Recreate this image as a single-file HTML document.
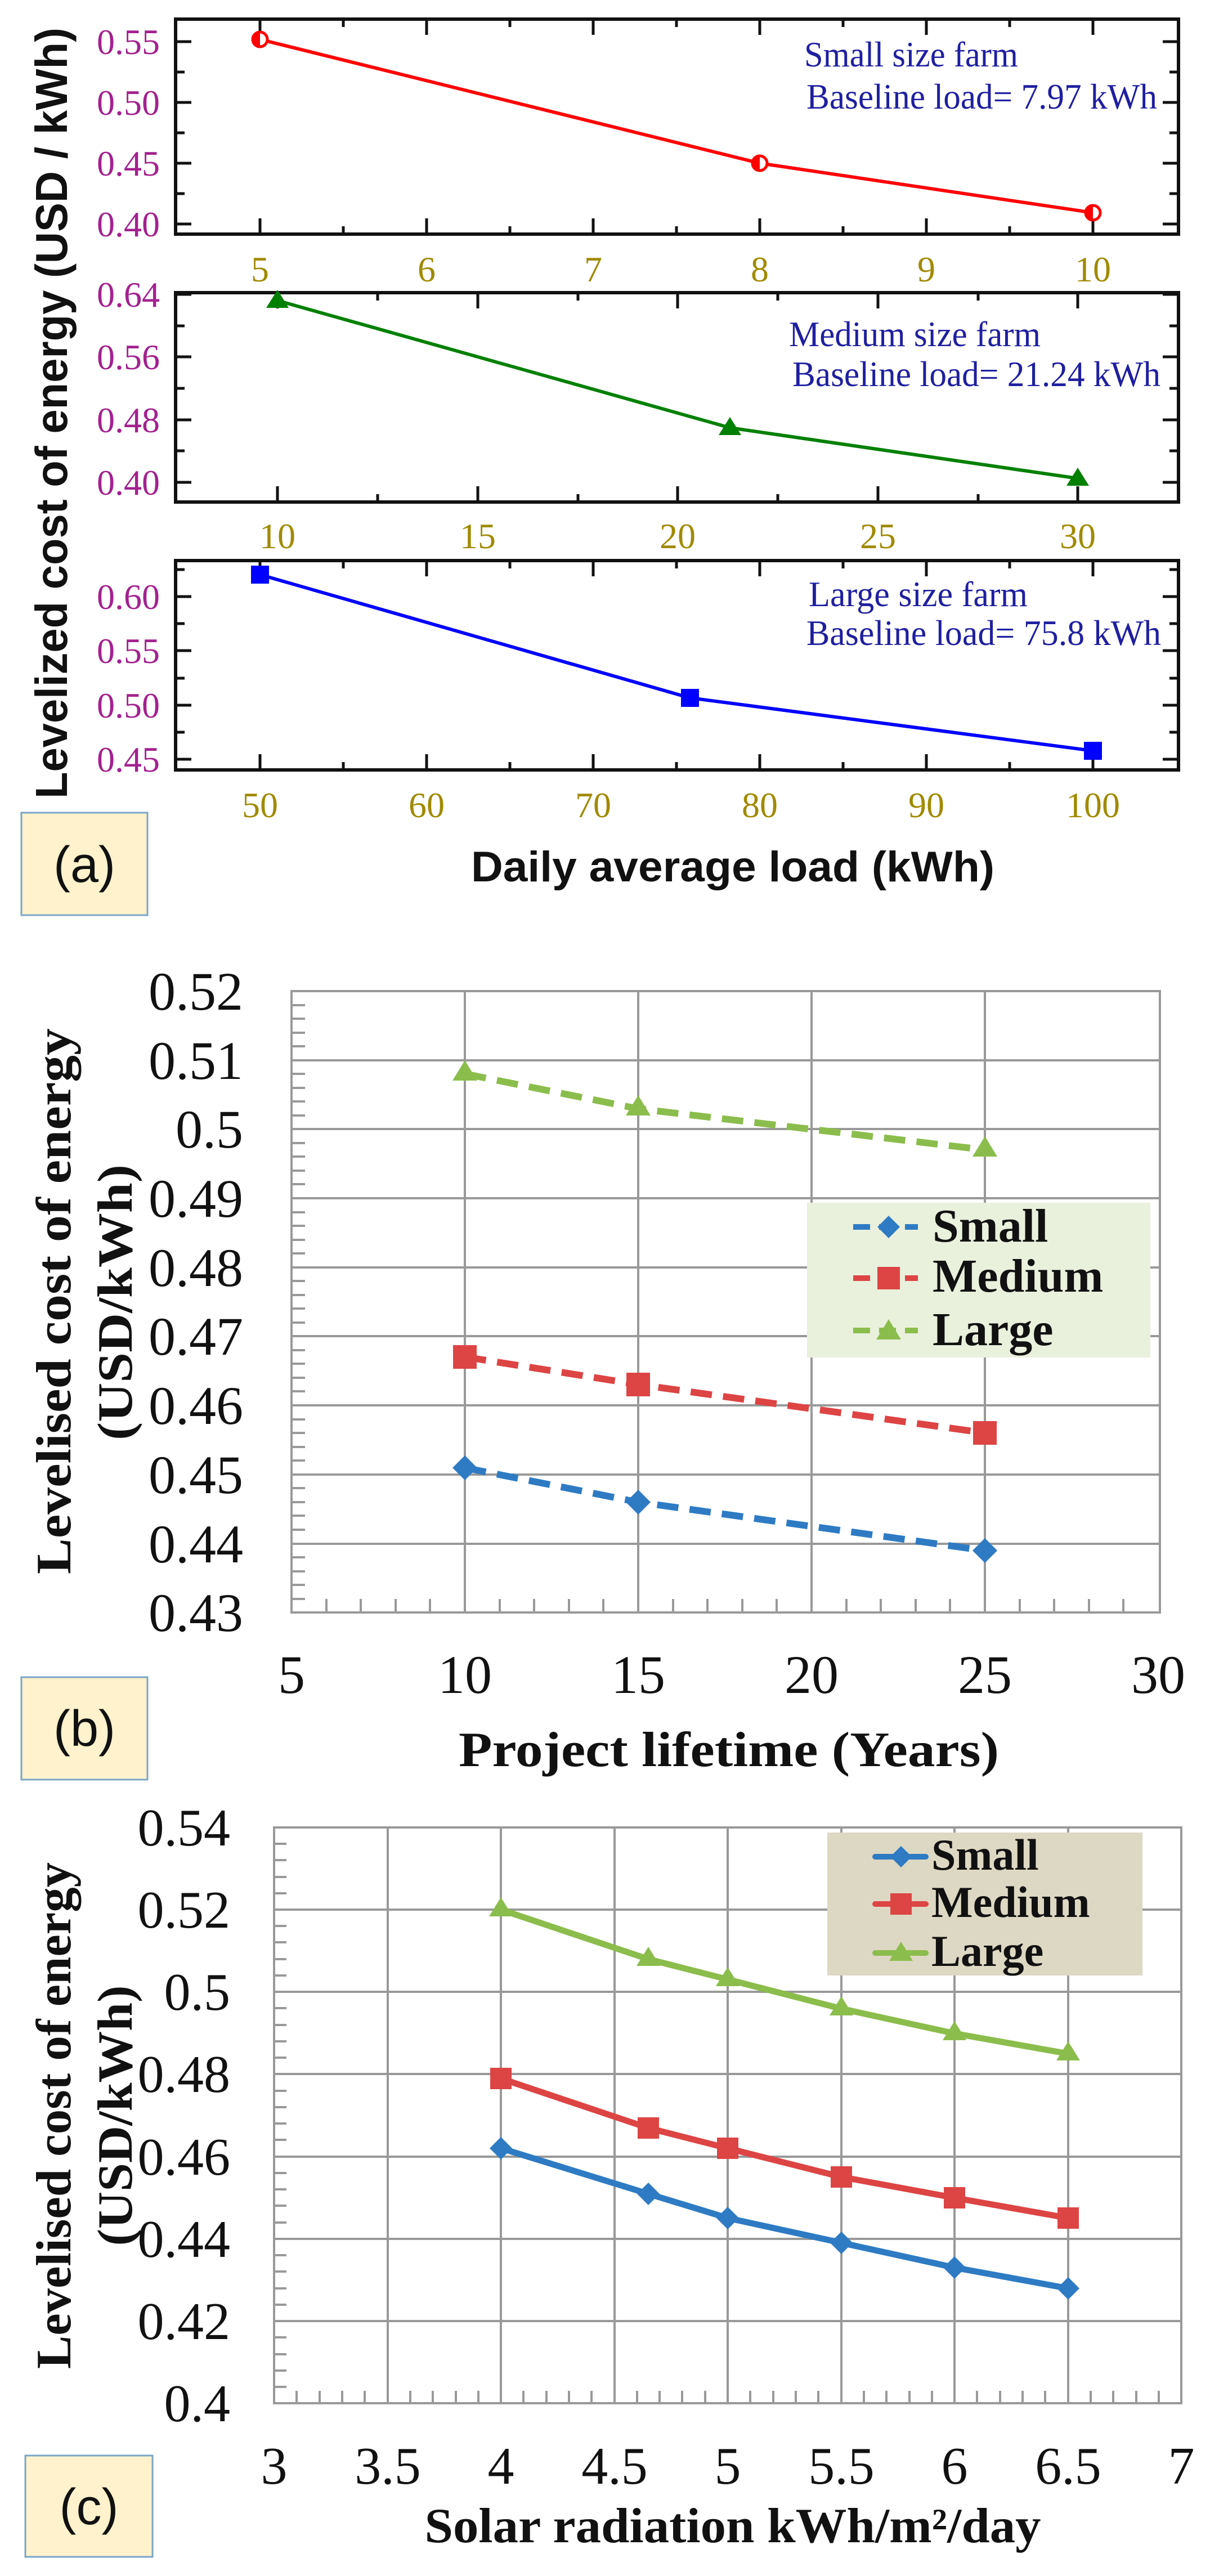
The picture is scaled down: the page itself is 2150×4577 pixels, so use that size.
<!DOCTYPE html>
<html><head><meta charset="utf-8"><style>
html,body{margin:0;padding:0;background:#fff;}
svg{display:block;}
</style></head><body>
<svg width="2150" height="4577" viewBox="0 0 2150 4577" xmlns="http://www.w3.org/2000/svg">
<rect width="2150" height="4577" fill="#fff"/>

<!-- ===== Panel (a) ===== -->
<g stroke="#111" stroke-width="6" fill="none">
 <rect x="312" y="34" width="1782" height="382"/>
 <rect x="312" y="520" width="1782" height="372"/>
 <rect x="312" y="996" width="1782" height="372"/>
</g>
<g stroke="#111" stroke-width="5">
 <path d="M462 416v-28M758 416v-28M1054 416v-28M1350 416v-28M1646 416v-28M1942 416v-28
 M610 416v-14M906 416v-14M1202 416v-14M1498 416v-14M1794 416v-14
 M462 34v28M758 34v28M1054 34v28M1350 34v28M1646 34v28M1942 34v28
 M610 34v14M906 34v14M1202 34v14M1498 34v14M1794 34v14
 M312 74h28M312 182h28M312 290h28M312 398h28M312 128h16M312 236h16M312 344h16
 M2094 74h-28M2094 182h-28M2094 290h-28M2094 398h-28M2094 128h-16M2094 236h-16M2094 344h-16"/>
</g>
<g font-family="Liberation Serif, serif" font-size="64" fill="#a3218f" text-anchor="end">
 <text x="284" y="96">0.55</text><text x="284" y="204">0.50</text><text x="284" y="312">0.45</text><text x="284" y="420">0.40</text>
</g>
<g font-family="Liberation Serif, serif" font-size="64" fill="#a08a00" text-anchor="middle">
 <text x="462" y="500">5</text><text x="758" y="500">6</text><text x="1054" y="500">7</text><text x="1350" y="500">8</text><text x="1646" y="500">9</text><text x="1942" y="500">10</text>
</g>
<polyline points="462,70 1350,290 1942,378" fill="none" stroke="#f00" stroke-width="6"/>
<g fill="#fff" stroke="#f00" stroke-width="5">
 <circle cx="462" cy="70" r="13"/><circle cx="1350" cy="290" r="13"/><circle cx="1942" cy="378" r="13"/>
</g>
<g fill="#f00"><path d="M462 57a13 13 0 0 0 0 26z"/><path d="M1350 277a13 13 0 0 0 0 26z"/><path d="M1942 365a13 13 0 0 0 0 26z"/></g>
<g font-family="Liberation Serif, serif" font-size="64" fill="#1f1fa0">
 <text x="1429" y="118" textLength="380" lengthAdjust="spacingAndGlyphs">Small size farm</text>
 <text x="1433" y="193" textLength="623" lengthAdjust="spacingAndGlyphs">Baseline load= 7.97 kWh</text>
</g>

<g stroke="#111" stroke-width="5">
 <path d="M493 892v-28M849 892v-28M1204 892v-28M1560 892v-28M1915 892v-28
 M671 892v-14M1027 892v-14M1382 892v-14M1738 892v-14
 M493 520v28M849 520v28M1204 520v28M1560 520v28M1915 520v28
 M671 520v14M1027 520v14M1382 520v14M1738 520v14
 M312 523h28M312 634h28M312 746h28M312 857h28M312 579h16M312 690h16M312 801h16
 M2094 523h-28M2094 634h-28M2094 746h-28M2094 857h-28M2094 579h-16M2094 690h-16M2094 801h-16"/>
</g>
<g font-family="Liberation Serif, serif" font-size="64" fill="#a3218f" text-anchor="end">
 <text x="284" y="545">0.64</text><text x="284" y="656">0.56</text><text x="284" y="768">0.48</text><text x="284" y="879">0.40</text>
</g>
<g font-family="Liberation Serif, serif" font-size="64" fill="#a08a00" text-anchor="middle">
 <text x="493" y="974">10</text><text x="849" y="974">15</text><text x="1204" y="974">20</text><text x="1560" y="974">25</text><text x="1915" y="974">30</text>
</g>
<polyline points="493,534 1297,760 1915,850" fill="none" stroke="#008000" stroke-width="6"/>
<g fill="#008000">
 <path d="M493 515l20 32h-40z"/><path d="M1297 741l20 32h-40z"/><path d="M1915 831l20 32h-40z"/>
</g>
<g font-family="Liberation Serif, serif" font-size="64" fill="#1f1fa0">
 <text x="1402" y="615" textLength="447" lengthAdjust="spacingAndGlyphs">Medium size farm</text>
 <text x="1408" y="686" textLength="654" lengthAdjust="spacingAndGlyphs">Baseline load= 21.24 kWh</text>
</g>

<g stroke="#111" stroke-width="5">
 <path d="M462 1368v-28M758 1368v-28M1054 1368v-28M1350 1368v-28M1646 1368v-28M1942 1368v-28
 M610 1368v-14M906 1368v-14M1202 1368v-14M1498 1368v-14M1794 1368v-14
 M462 996v28M758 996v28M1054 996v28M1350 996v28M1646 996v28M1942 996v28
 M610 996v14M906 996v14M1202 996v14M1498 996v14M1794 996v14
 M312 1060h28M312 1156h28M312 1253h28M312 1349h28M312 1012h16M312 1108h16M312 1205h16M312 1301h16
 M2094 1060h-28M2094 1156h-28M2094 1253h-28M2094 1349h-28M2094 1012h-16M2094 1108h-16M2094 1205h-16M2094 1301h-16"/>
</g>
<g font-family="Liberation Serif, serif" font-size="64" fill="#a3218f" text-anchor="end">
 <text x="284" y="1082">0.60</text><text x="284" y="1178">0.55</text><text x="284" y="1275">0.50</text><text x="284" y="1371">0.45</text>
</g>
<g font-family="Liberation Serif, serif" font-size="64" fill="#a08a00" text-anchor="middle">
 <text x="462" y="1452">50</text><text x="758" y="1452">60</text><text x="1054" y="1452">70</text><text x="1350" y="1452">80</text><text x="1646" y="1452">90</text><text x="1942" y="1452">100</text>
</g>
<polyline points="462,1021 1226,1240 1942,1334" fill="none" stroke="#00f" stroke-width="6"/>
<g fill="#00f"><rect x="446" y="1005" width="32" height="32"/><rect x="1210" y="1224" width="32" height="32"/><rect x="1926" y="1318" width="32" height="32"/></g>
<g font-family="Liberation Serif, serif" font-size="64" fill="#1f1fa0">
 <text x="1437" y="1077" textLength="389" lengthAdjust="spacingAndGlyphs">Large size farm</text>
 <text x="1433" y="1146" textLength="630" lengthAdjust="spacingAndGlyphs">Baseline load= 75.8 kWh</text>
</g>

<text font-family="Liberation Sans, sans-serif" font-size="80" font-weight="bold" fill="#111" text-anchor="middle" transform="translate(119 734) rotate(-90)" textLength="1370" lengthAdjust="spacingAndGlyphs">Levelized cost of energy (USD / kWh)</text>
<text font-family="Liberation Sans, sans-serif" font-size="76" font-weight="bold" fill="#111" text-anchor="middle" x="1302" y="1566" textLength="930" lengthAdjust="spacingAndGlyphs">Daily average load (kWh)</text>
<rect x="38" y="1444" width="224" height="182" fill="#fff2cc" stroke="#7aa6c8" stroke-width="3"/>
<text font-family="Liberation Sans, sans-serif" font-size="90" fill="#111" text-anchor="middle" x="150" y="1567">(a)</text>

<!-- ===== Panel (b) ===== -->
<g stroke="#999" stroke-width="4" fill="none">
 <path d="M518 1884H2061M518 2006H2061M518 2129H2061M518 2252H2061M518 2374H2061M518 2497H2061M518 2620H2061M518 2743H2061"/>
 <path d="M826 1761V2865M1134 1761V2865M1442 1761V2865M1750 1761V2865"/>
 <rect x="518" y="1761" width="1543" height="1104"/>
 <path d="M518 1786h24M518 1810h24M518 1835h24M518 1859h24M518 1908h24M518 1933h24M518 1957h24M518 1982h24M518 2031h24M518 2055h24M518 2080h24M518 2104h24M518 2154h24M518 2178h24M518 2203h24M518 2227h24M518 2276h24M518 2301h24M518 2325h24M518 2350h24M518 2399h24M518 2423h24M518 2448h24M518 2472h24M518 2522h24M518 2546h24M518 2571h24M518 2595h24M518 2644h24M518 2669h24M518 2693h24M518 2718h24M518 2767h24M518 2792h24M518 2816h24M518 2841h24"/>
 <path d="M580 2865v-24M641 2865v-24M703 2865v-24M764 2865v-24M888 2865v-24M949 2865v-24M1011 2865v-24M1072 2865v-24M1196 2865v-24M1257 2865v-24M1319 2865v-24M1380 2865v-24M1504 2865v-24M1565 2865v-24M1627 2865v-24M1688 2865v-24M1812 2865v-24M1873 2865v-24M1935 2865v-24M1996 2865v-24"/>
</g>
<g font-family="Liberation Serif, serif" font-size="96" fill="#111" text-anchor="end">
 <text x="432" y="1794">0.52</text><text x="432" y="1917">0.51</text><text x="432" y="2039">0.5</text><text x="432" y="2162">0.49</text><text x="432" y="2285">0.48</text><text x="432" y="2407">0.47</text><text x="432" y="2530">0.46</text><text x="432" y="2653">0.45</text><text x="432" y="2776">0.44</text><text x="432" y="2898">0.43</text>
</g>
<g font-family="Liberation Serif, serif" font-size="96" fill="#111" text-anchor="middle">
 <text x="518" y="3008">5</text><text x="826" y="3008">10</text><text x="1134" y="3008">15</text><text x="1442" y="3008">20</text><text x="1750" y="3008">25</text><text x="2058" y="3008">30</text>
</g>
<g fill="none" stroke-width="12" stroke-dasharray="38 20">
 <polyline points="826,1908 1134,1970 1750,2043" stroke="#8bbd4c"/>
 <polyline points="826,2411 1134,2460 1750,2546" stroke="#dd4444"/>
 <polyline points="826,2608 1134,2669 1750,2755" stroke="#2e7bc4"/>
</g>
<g fill="#8bbd4c"><path d="M826 1884l22 36h-44z"/><path d="M1134 1946l22 36h-44z"/><path d="M1750 2019l22 36h-44z"/></g>
<g fill="#dd4444"><rect x="805" y="2390" width="42" height="42"/><rect x="1113" y="2439" width="42" height="42"/><rect x="1729" y="2525" width="42" height="42"/></g>
<g fill="#2e7bc4"><path d="M826 2586l22 22-22 22-22-22z"/><path d="M1134 2647l22 22-22 22-22-22z"/><path d="M1750 2733l22 22-22 22-22-22z"/></g>
<rect x="1434" y="2137" width="610" height="275" fill="#e9f0dc"/>
<g stroke-width="10" stroke-dasharray="30 16">
 <path d="M1516 2180H1631" stroke="#2e7bc4"/><path d="M1516 2271H1631" stroke="#dd4444"/><path d="M1516 2364H1631" stroke="#8bbd4c"/>
</g>
<path d="M1579 2160l20 20-20 20-20-20z" fill="#2e7bc4"/>
<rect x="1559" y="2251" width="40" height="40" fill="#dd4444"/>
<path d="M1579 2344l22 36h-44z" fill="#8bbd4c"/>
<g font-family="Liberation Serif, serif" font-size="84" font-weight="bold" fill="#111">
 <text x="1657" y="2206">Small</text><text x="1657" y="2295">Medium</text><text x="1657" y="2390">Large</text>
</g>
<g font-family="Liberation Serif, serif" font-size="88" font-weight="bold" fill="#111" text-anchor="middle">
 <text transform="translate(125 2312) rotate(-90)" textLength="970" lengthAdjust="spacingAndGlyphs">Levelised cost of energy</text>
 <text transform="translate(234 2314) rotate(-90)" textLength="490" lengthAdjust="spacingAndGlyphs">(USD/kWh)</text>
 <text x="1295" y="3138" textLength="960" lengthAdjust="spacingAndGlyphs">Project lifetime (Years)</text>
</g>
<rect x="38" y="2980" width="224" height="182" fill="#fff2cc" stroke="#7aa6c8" stroke-width="3"/>
<text font-family="Liberation Sans, sans-serif" font-size="90" fill="#111" text-anchor="middle" x="150" y="3102">(b)</text>

<!-- ===== Panel (c) ===== -->
<g stroke="#999" stroke-width="4" fill="none">
 <path d="M487 3393H2099M487 3539H2099M487 3685H2099M487 3832H2099M487 3978H2099M487 4124H2099"/>
 <path d="M689 3247V4270M890 3247V4270M1092 3247V4270M1293 3247V4270M1495 3247V4270M1696 3247V4270M1898 3247V4270"/>
 <rect x="487" y="3247" width="1612" height="1023"/>
 <path d="M487 3276h22M487 3305h22M487 3335h22M487 3364h22M487 3422h22M487 3451h22M487 3481h22M487 3510h22M487 3568h22M487 3598h22M487 3627h22M487 3656h22M487 3715h22M487 3744h22M487 3773h22M487 3802h22M487 3861h22M487 3890h22M487 3919h22M487 3949h22M487 4007h22M487 4036h22M487 4066h22M487 4095h22M487 4153h22M487 4183h22M487 4212h22M487 4241h22"/>
 <path d="M527 4270v-22M568 4270v-22M608 4270v-22M648 4270v-22M729 4270v-22M769 4270v-22M810 4270v-22M850 4270v-22M930 4270v-22M971 4270v-22M1011 4270v-22M1051 4270v-22M1132 4270v-22M1172 4270v-22M1212 4270v-22M1253 4270v-22M1333 4270v-22M1374 4270v-22M1414 4270v-22M1454 4270v-22M1535 4270v-22M1575 4270v-22M1616 4270v-22M1656 4270v-22M1736 4270v-22M1777 4270v-22M1817 4270v-22M1857 4270v-22M1938 4270v-22M1978 4270v-22M2019 4270v-22M2059 4270v-22"/>
</g>
<g font-family="Liberation Serif, serif" font-size="94" fill="#111" text-anchor="end">
 <text x="409" y="3279">0.54</text><text x="409" y="3425">0.52</text><text x="409" y="3571">0.5</text><text x="409" y="3717">0.48</text><text x="409" y="3864">0.46</text><text x="409" y="4010">0.44</text><text x="409" y="4156">0.42</text><text x="409" y="4302">0.4</text>
</g>
<g font-family="Liberation Serif, serif" font-size="94" fill="#111" text-anchor="middle">
 <text x="487" y="4413">3</text><text x="689" y="4413">3.5</text><text x="890" y="4413">4</text><text x="1092" y="4413">4.5</text><text x="1293" y="4413">5</text><text x="1495" y="4413">5.5</text><text x="1696" y="4413">6</text><text x="1898" y="4413">6.5</text><text x="2099" y="4413">7</text>
</g>
<g fill="none" stroke-width="11" stroke-linejoin="round">
 <polyline points="890,3393 1152,3481 1293,3517 1495,3569 1696,3613 1898,3649" stroke="#8bbd4c"/>
 <polyline points="890,3693 1152,3781 1293,3817 1495,3868 1696,3905 1898,3941" stroke="#dd4444"/>
 <polyline points="890,3817 1152,3898 1293,3941 1495,3985 1696,4029 1898,4066" stroke="#2e7bc4"/>
</g>
<g fill="#8bbd4c"><path d="M890 3371l21 34h-42z"/><path d="M1152 3459l21 34h-42z"/><path d="M1293 3495l21 34h-42z"/><path d="M1495 3547l21 34h-42z"/><path d="M1696 3591l21 34h-42z"/><path d="M1898 3627l21 34h-42z"/></g>
<g fill="#dd4444"><rect x="871" y="3674" width="38" height="38"/><rect x="1133" y="3762" width="38" height="38"/><rect x="1274" y="3798" width="38" height="38"/><rect x="1476" y="3849" width="38" height="38"/><rect x="1677" y="3886" width="38" height="38"/><rect x="1879" y="3922" width="38" height="38"/></g>
<g fill="#2e7bc4"><path d="M890 3797l20 20-20 20-20-20z"/><path d="M1152 3878l20 20-20 20-20-20z"/><path d="M1293 3921l20 20-20 20-20-20z"/><path d="M1495 3965l20 20-20 20-20-20z"/><path d="M1696 4009l20 20-20 20-20-20z"/><path d="M1898 4046l20 20-20 20-20-20z"/></g>
<rect x="1470" y="3256" width="560" height="254" fill="#ddd8c3"/>
<g stroke-width="10" stroke-linecap="round">
 <path d="M1555 3299H1645" stroke="#2e7bc4"/><path d="M1555 3383H1645" stroke="#dd4444"/><path d="M1555 3470H1645" stroke="#8bbd4c"/>
</g>
<path d="M1601 3280l19 19-19 19-19-19z" fill="#2e7bc4"/>
<rect x="1582" y="3364" width="38" height="38" fill="#dd4444"/>
<path d="M1601 3450l21 34h-42z" fill="#8bbd4c"/>
<g font-family="Liberation Serif, serif" font-size="78" font-weight="bold" fill="#111">
 <text x="1655" y="3322">Small</text><text x="1655" y="3406">Medium</text><text x="1655" y="3493">Large</text>
</g>
<g font-family="Liberation Serif, serif" font-size="88" font-weight="bold" fill="#111" text-anchor="middle">
 <text transform="translate(125 3759) rotate(-90)" textLength="900" lengthAdjust="spacingAndGlyphs">Levelised cost of energy</text>
 <text transform="translate(234 3759) rotate(-90)" textLength="463" lengthAdjust="spacingAndGlyphs">(USD/kWh)</text>
 <text x="1302" y="4517" textLength="1095" lengthAdjust="spacingAndGlyphs">Solar radiation kWh/m²/day</text>
</g>
<rect x="45" y="4363" width="226" height="180" fill="#fff2cc" stroke="#7aa6c8" stroke-width="3"/>
<text font-family="Liberation Sans, sans-serif" font-size="90" fill="#111" text-anchor="middle" x="158" y="4485">(c)</text>
</svg>
</body></html>
